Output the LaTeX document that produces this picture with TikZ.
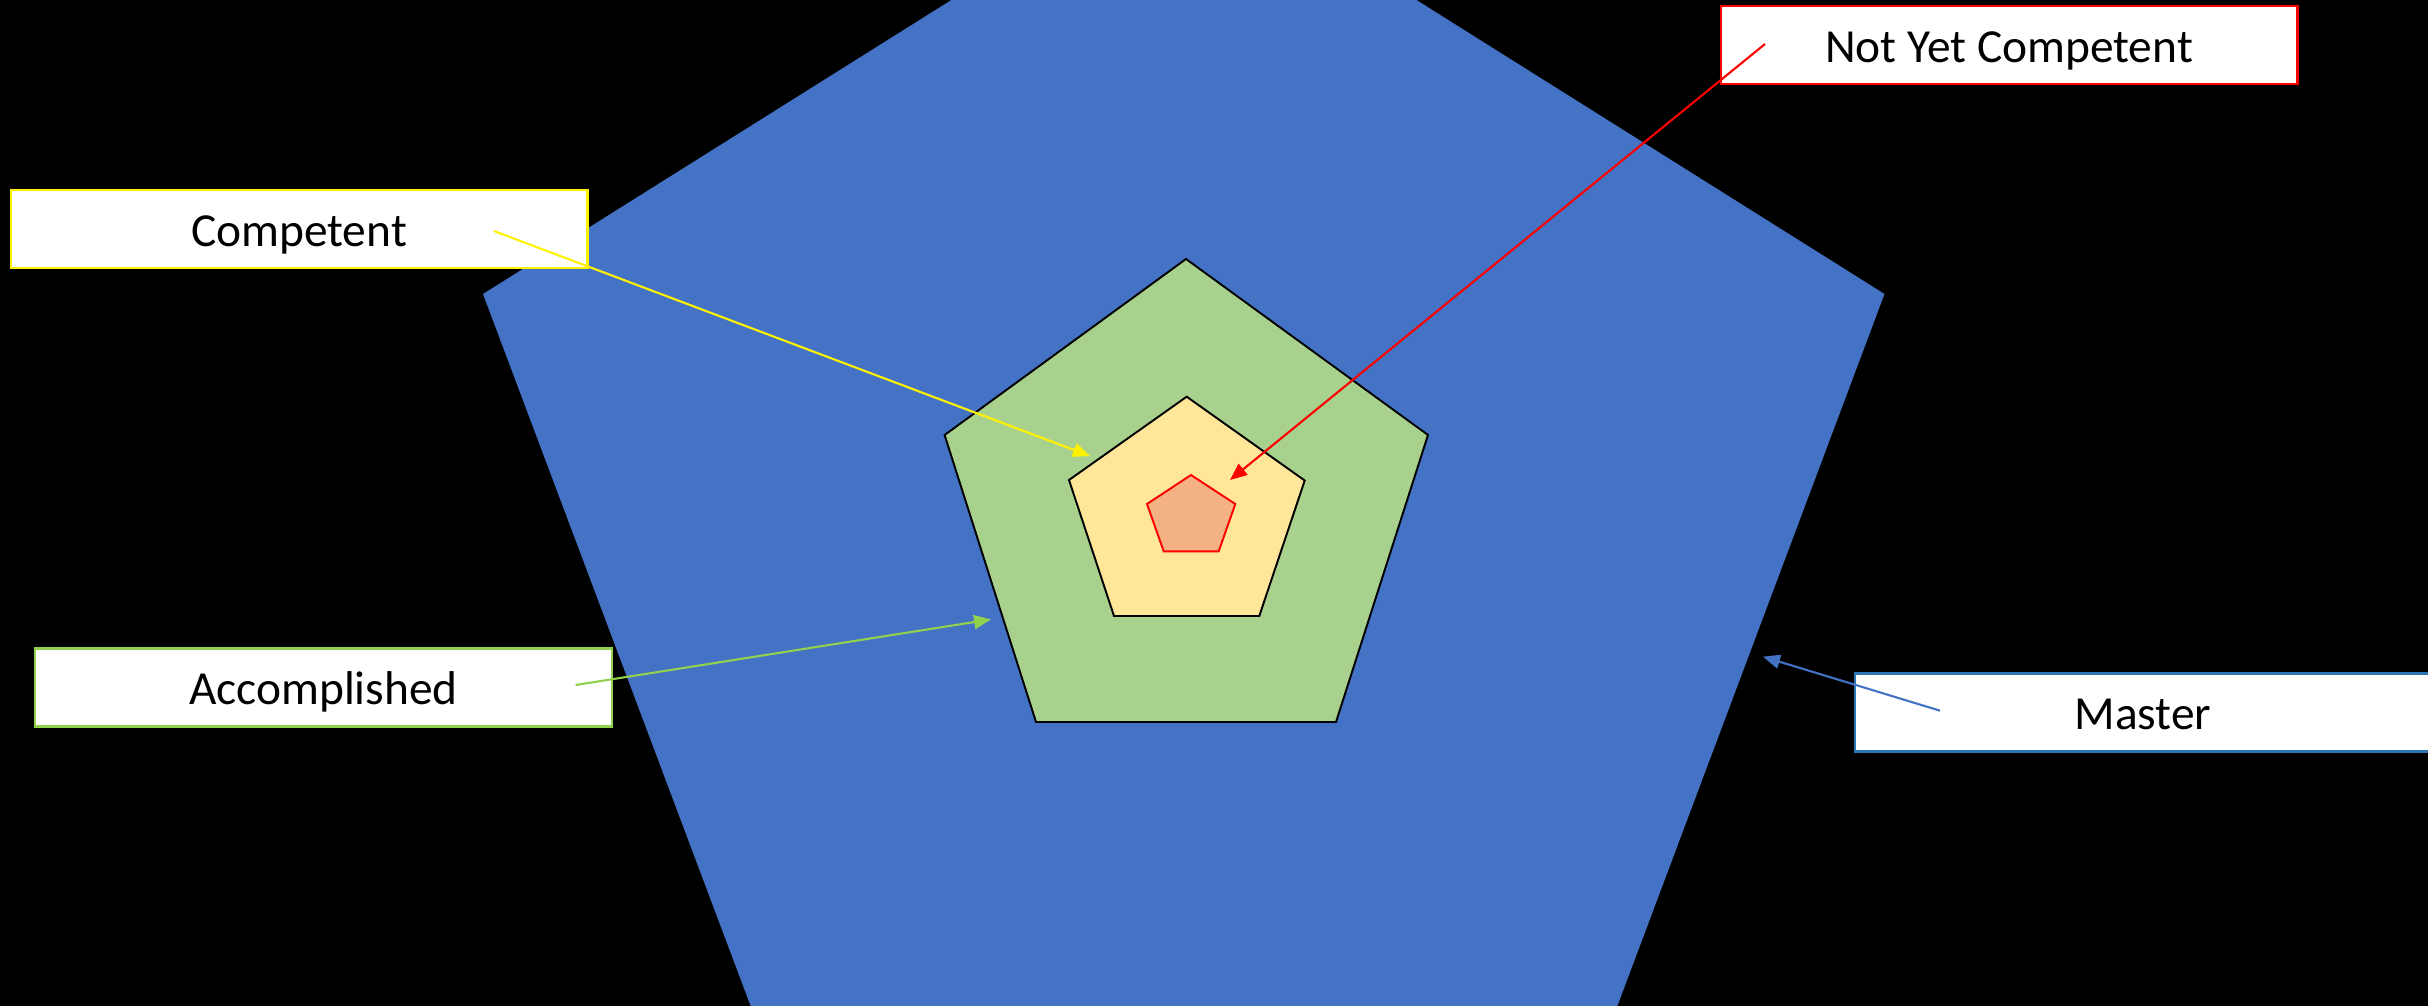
\documentclass[tikz,border=0pt]{standalone}
\usepackage{fontspec}
\setmainfont{Carlito}
\usetikzlibrary{arrows.meta}
\definecolor{mblue}{HTML}{4472C4}
\definecolor{mblueline}{HTML}{2E75B6}
\definecolor{mgreen}{HTML}{A9D18E}
\definecolor{mgreenline}{HTML}{92D050}
\definecolor{myellow}{HTML}{FFE699}
\definecolor{morange}{HTML}{F4B183}
\tikzset{
  lbl/.style={draw, fill=white, line width=1.2pt, inner sep=0pt, outer sep=0pt,
    text height=0.70cm, text depth=0cm,
    minimum width=11.54cm, minimum height=1.56cm, font=\fontsize{27}{32}\selectfont},
  penta/.style={draw=black, line width=1.1pt, line join=miter},
  conn/.style={line width=1.2pt, -{Triangle[length=3.4mm,width=2.8mm]}}
}
\begin{document}
\begin{tikzpicture}[x=0.02cm,y=-0.02cm]
\useasboundingbox (0,0) rectangle (2428,1006);
\clip (0,0) rectangle (2428,1006);
\fill[black] (0,0) rectangle (2428,1006);
% pentagons
\fill[mblue] (1184,-146) -- (1884.5,294) -- (1617,1007) -- (751,1007) -- (483,294) -- cycle;
\filldraw[penta, fill=mgreen] (1186,259) -- (1428,435) -- (1336,722) -- (1036,722) -- (944.6,435) -- cycle;
\filldraw[penta, fill=myellow] (1186.7,396.7) -- (1304.7,480.5) -- (1259.3,616) -- (1114,616) -- (1069,480) -- cycle;
\filldraw[penta, draw=red, fill=morange] (1191,475) -- (1235.3,504) -- (1218.7,551.3) -- (1163.7,551.3) -- (1147,504) -- cycle;
% labels
\node[lbl, draw=yellow] (comp) at (299,229) {Competent};
\node[lbl, draw=red] (nyc) at (2009,44.7) {Not Yet Competent};
\node[lbl, draw=mgreenline] (acc) at (323.5,687.5) {Accomplished};
\node[lbl, draw=mblueline] (mas) at (2143,712.5) {Master};
% connector ends
\coordinate (cs) at (494,231);
\coordinate (ce) at (1090,456);
\coordinate (ns) at (1765,44);
\coordinate (ne) at (1230,480);
\coordinate (as) at (575.6,685);
\coordinate (ae) at (991,619.4);
\coordinate (ms) at (1940,710.7);
\coordinate (me) at (1763,656.7);
\draw[conn, yellow] (cs) -- (ce);
\draw[conn, red] (ns) -- (ne);
\draw[conn, mgreenline] (as) -- (ae);
\draw[conn, mblue] (ms) -- (me);
\end{tikzpicture}
\end{document}
